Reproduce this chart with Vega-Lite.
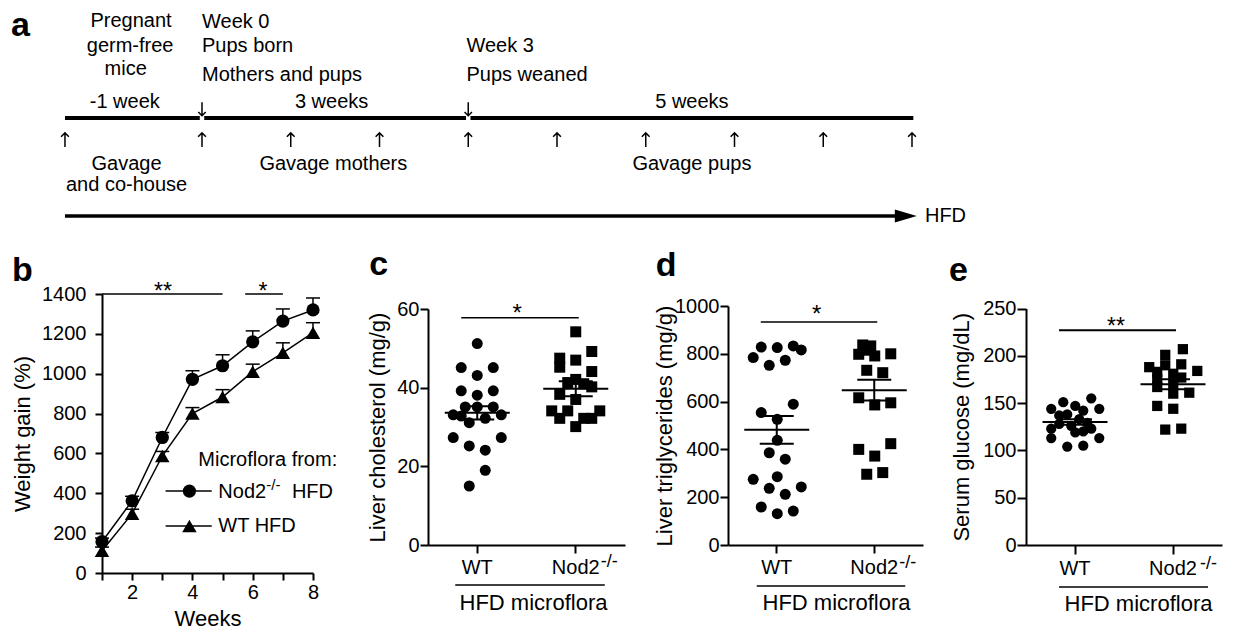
{
  "$schema": "https://vega.github.io/schema/vega-lite/v6.json",
  "background": "white",
  "padding": {"left": 11, "top": 1, "right": 5, "bottom": 2},
  "bounds": "flush",
  "spacing": 66,
  "resolve": {"scale": {"shape": "independent", "size": "independent"}},
  "datasets": {
    "tl_lines": [
      {"w0": -1.544, "w1": -0.025, "v": 0, "role": "main"},
      {"w0": 0.025, "w1": 2.975, "v": 0, "role": "main"},
      {"w0": 3.025, "w1": 8.015, "v": 0, "role": "main"},
      {"w0": -1.544, "w1": 7.85, "v": -3.92, "role": "hfd"},
      {"w0": 7.93, "w1": 7.93, "v": -3.92, "role": "head"}
    ],
    "tl_text": [
      {"label": "Pregnant", "w": -0.8, "v": 3.88, "role": "center"},
      {"label": "germ-free", "w": -0.81, "v": 2.88, "role": "center"},
      {"label": "mice", "w": -0.86, "v": 1.96, "role": "center"},
      {"label": "-1 week", "w": -0.87, "v": 0.64, "role": "center"},
      {"label": "3 weeks", "w": 1.46, "v": 0.64, "role": "center"},
      {"label": "5 weeks", "w": 5.52, "v": 0.64, "role": "center"},
      {"label": "Gavage", "w": -0.85, "v": -1.82, "role": "center"},
      {"label": "and co-house", "w": -0.85, "v": -2.68, "role": "center"},
      {"label": "Gavage mothers", "w": 1.48, "v": -1.82, "role": "center"},
      {"label": "Gavage pups", "w": 5.52, "v": -1.82, "role": "center"},
      {"label": "Week 0", "w": 0, "v": 3.86, "role": "left"},
      {"label": "Pups born", "w": 0, "v": 2.88, "role": "left"},
      {"label": "Mothers and pups", "w": 0, "v": 1.72, "role": "left"},
      {"label": "Week 3", "w": 2.98, "v": 2.89, "role": "left"},
      {"label": "Pups weaned", "w": 2.98, "v": 1.72, "role": "left"},
      {"label": "HFD", "w": 8.146, "v": -3.92, "role": "left"},
      {"label": "a", "w": -2.152, "v": 3.28, "role": "letter"}
    ],
    "tl_arrows": [
      {"w": -1.544, "v": -0.88, "dir": "up"},
      {"w": 0, "v": -0.88, "dir": "up"},
      {"w": 1, "v": -0.88, "dir": "up"},
      {"w": 2, "v": -0.88, "dir": "up"},
      {"w": 3, "v": -0.88, "dir": "up"},
      {"w": 4, "v": -0.88, "dir": "up"},
      {"w": 5, "v": -0.88, "dir": "up"},
      {"w": 6, "v": -0.88, "dir": "up"},
      {"w": 7, "v": -0.88, "dir": "up"},
      {"w": 8, "v": -0.88, "dir": "up"},
      {"w": 0, "v": 0.36, "dir": "down"},
      {"w": 3, "v": 0.36, "dir": "down"}
    ],
    "weight": [
      {"group": "Nod2", "week": 1, "mean": 157, "upper": 175},
      {"group": "Nod2", "week": 2, "mean": 362, "upper": 385},
      {"group": "Nod2", "week": 3, "mean": 680, "upper": 705},
      {"group": "Nod2", "week": 4, "mean": 972, "upper": 1015},
      {"group": "Nod2", "week": 5, "mean": 1040, "upper": 1095},
      {"group": "Nod2", "week": 6, "mean": 1160, "upper": 1215},
      {"group": "Nod2", "week": 7, "mean": 1264, "upper": 1325},
      {"group": "Nod2", "week": 8, "mean": 1320, "upper": 1380},
      {"group": "WT", "week": 1, "mean": 112, "upper": 130},
      {"group": "WT", "week": 2, "mean": 298, "upper": 320},
      {"group": "WT", "week": 3, "mean": 587, "upper": 610},
      {"group": "WT", "week": 4, "mean": 800, "upper": 830},
      {"group": "WT", "week": 5, "mean": 883, "upper": 920},
      {"group": "WT", "week": 6, "mean": 1010, "upper": 1048},
      {"group": "WT", "week": 7, "mean": 1105, "upper": 1155},
      {"group": "WT", "week": 8, "mean": 1206, "upper": 1256}
    ],
    "weight_sig": [
      {"x0": 1, "x1": 5, "xm": 3.02, "y": 1400, "label": "**"},
      {"x0": 5.75, "x1": 7, "xm": 6.34, "y": 1400, "label": "*"}
    ],
    "b_legend": [
      {"group": "Nod2", "x0": 3.11, "x1": 4.64, "xm": 3.9, "y": 411},
      {"group": "WT", "x0": 3.11, "x1": 4.64, "xm": 3.9, "y": 236}
    ],
    "b_legend_text": [
      {"label": "Microflora from:", "x": 4.195, "y": 568, "role": "normal"},
      {"label": "Nod2", "x": 4.86, "y": 405, "role": "normal"},
      {"label": "HFD", "x": 7.3, "y": 405, "role": "normal"},
      {"label": "WT HFD", "x": 4.86, "y": 236, "role": "normal"},
      {"label": "-/-", "x": 6.45, "y": 440, "role": "sup"}
    ],
    "b_letter": [{"label": "b", "x": 1, "y": 1400}],
    "chol": [
      {"group": "WT", "slot": 0, "value": 51.2}, {"group": "WT", "slot": -2, "value": 45.1}, {"group": "WT", "slot": 2, "value": 45.1},
      {"group": "WT", "slot": 0, "value": 43.1}, {"group": "WT", "slot": -2, "value": 39.2}, {"group": "WT", "slot": 2, "value": 39.2},
      {"group": "WT", "slot": 0, "value": 38.1}, {"group": "WT", "slot": -1.5, "value": 35.1}, {"group": "WT", "slot": 0, "value": 35.1},
      {"group": "WT", "slot": 2, "value": 35.1}, {"group": "WT", "slot": -3, "value": 33.1}, {"group": "WT", "slot": 3, "value": 33.1},
      {"group": "WT", "slot": -2, "value": 32.8}, {"group": "WT", "slot": 1, "value": 32.2}, {"group": "WT", "slot": -1, "value": 31.1},
      {"group": "WT", "slot": -3, "value": 27.3}, {"group": "WT", "slot": 3, "value": 27.3}, {"group": "WT", "slot": -1, "value": 25.2},
      {"group": "WT", "slot": 1, "value": 24.1}, {"group": "WT", "slot": 1, "value": 19.0}, {"group": "WT", "slot": -1, "value": 15.0},
      {"group": "Nod2", "slot": 0, "value": 54.2}, {"group": "Nod2", "slot": 2, "value": 49.2}, {"group": "Nod2", "slot": -2, "value": 47.5},
      {"group": "Nod2", "slot": -2, "value": 45.2}, {"group": "Nod2", "slot": 0, "value": 47.0}, {"group": "Nod2", "slot": 2, "value": 44.1},
      {"group": "Nod2", "slot": 0, "value": 42.1}, {"group": "Nod2", "slot": -1, "value": 41.3}, {"group": "Nod2", "slot": 1, "value": 41.0},
      {"group": "Nod2", "slot": 2, "value": 40.2}, {"group": "Nod2", "slot": -2, "value": 38.3}, {"group": "Nod2", "slot": 0, "value": 37.0},
      {"group": "Nod2", "slot": -3, "value": 34.1}, {"group": "Nod2", "slot": -1, "value": 34.1}, {"group": "Nod2", "slot": 3, "value": 34.1},
      {"group": "Nod2", "slot": -2, "value": 32.2}, {"group": "Nod2", "slot": 1, "value": 32.2}, {"group": "Nod2", "slot": 2, "value": 32.2},
      {"group": "Nod2", "slot": 0, "value": 30.1}
    ],
    "chol_mean": [
      {"group": "WT", "mean": 33.6, "lo": 31.9, "hi": 35.3},
      {"group": "Nod2", "mean": 39.7, "lo": 37.8, "hi": 41.6}
    ],
    "chol_ann": [{"a": "WT", "b": "Nod2", "sig": 57.8, "label": "*", "base": 0, "top": 60, "letter": "c", "sup": "-/-"}],
    "tg": [
      {"group": "WT", "slot": -2, "value": 828}, {"group": "WT", "slot": 0, "value": 826}, {"group": "WT", "slot": 2, "value": 833},
      {"group": "WT", "slot": 3, "value": 816}, {"group": "WT", "slot": -3, "value": 784}, {"group": "WT", "slot": -1, "value": 752},
      {"group": "WT", "slot": 1, "value": 773}, {"group": "WT", "slot": -2, "value": 554}, {"group": "WT", "slot": 2, "value": 589},
      {"group": "WT", "slot": 0, "value": 526}, {"group": "WT", "slot": 0, "value": 438}, {"group": "WT", "slot": -1, "value": 386},
      {"group": "WT", "slot": 1, "value": 359}, {"group": "WT", "slot": -3, "value": 275}, {"group": "WT", "slot": 0, "value": 286},
      {"group": "WT", "slot": -1, "value": 237}, {"group": "WT", "slot": 3, "value": 243}, {"group": "WT", "slot": 1, "value": 212},
      {"group": "WT", "slot": -2, "value": 159}, {"group": "WT", "slot": 0, "value": 131}, {"group": "WT", "slot": 2, "value": 142},
      {"group": "Nod2", "slot": -1.5, "value": 837}, {"group": "Nod2", "slot": -0.5, "value": 833}, {"group": "Nod2", "slot": -2, "value": 798},
      {"group": "Nod2", "slot": 0, "value": 791}, {"group": "Nod2", "slot": 2, "value": 800}, {"group": "Nod2", "slot": -1, "value": 815},
      {"group": "Nod2", "slot": -1, "value": 731}, {"group": "Nod2", "slot": 1, "value": 721}, {"group": "Nod2", "slot": -2, "value": 616},
      {"group": "Nod2", "slot": 0, "value": 586}, {"group": "Nod2", "slot": 2, "value": 595}, {"group": "Nod2", "slot": 2, "value": 424},
      {"group": "Nod2", "slot": -2, "value": 400}, {"group": "Nod2", "slot": 0, "value": 372}, {"group": "Nod2", "slot": -1, "value": 296},
      {"group": "Nod2", "slot": 1, "value": 303}
    ],
    "tg_mean": [
      {"group": "WT", "mean": 482, "lo": 424, "hi": 540},
      {"group": "Nod2", "mean": 648, "lo": 605, "hi": 691}
    ],
    "tg_ann": [{"a": "WT", "b": "Nod2", "sig": 933, "label": "*", "base": 0, "top": 1000, "letter": "d", "sup": "-/-"}],
    "glu": [
      {"group": "WT", "slot": 2, "value": 155}, {"group": "WT", "slot": -1.5, "value": 151}, {"group": "WT", "slot": 0, "value": 147},
      {"group": "WT", "slot": -3, "value": 144}, {"group": "WT", "slot": 1, "value": 142}, {"group": "WT", "slot": 3, "value": 144},
      {"group": "WT", "slot": -2, "value": 137}, {"group": "WT", "slot": -1, "value": 138}, {"group": "WT", "slot": 0.5, "value": 133},
      {"group": "WT", "slot": -0.5, "value": 126}, {"group": "WT", "slot": 1.5, "value": 129}, {"group": "WT", "slot": -3, "value": 123},
      {"group": "WT", "slot": 2, "value": 123}, {"group": "WT", "slot": 0, "value": 119}, {"group": "WT", "slot": -3, "value": 113},
      {"group": "WT", "slot": 3, "value": 113}, {"group": "WT", "slot": -1, "value": 104}, {"group": "WT", "slot": 1, "value": 105},
      {"group": "WT", "slot": -2, "value": 128}, {"group": "WT", "slot": 1, "value": 120},
      {"group": "Nod2", "slot": 1.2, "value": 207}, {"group": "Nod2", "slot": -1, "value": 201}, {"group": "Nod2", "slot": -3, "value": 188},
      {"group": "Nod2", "slot": -1, "value": 190}, {"group": "Nod2", "slot": 1, "value": 191}, {"group": "Nod2", "slot": -2, "value": 183},
      {"group": "Nod2", "slot": 3, "value": 184}, {"group": "Nod2", "slot": 0, "value": 181}, {"group": "Nod2", "slot": 1, "value": 177},
      {"group": "Nod2", "slot": -2, "value": 175}, {"group": "Nod2", "slot": 0, "value": 170}, {"group": "Nod2", "slot": -2, "value": 167},
      {"group": "Nod2", "slot": 2, "value": 161}, {"group": "Nod2", "slot": 0, "value": 160}, {"group": "Nod2", "slot": -2, "value": 147},
      {"group": "Nod2", "slot": 0, "value": 144}, {"group": "Nod2", "slot": -1, "value": 122}, {"group": "Nod2", "slot": 1, "value": 123}
    ],
    "glu_mean": [
      {"group": "WT", "mean": 130, "lo": 127, "hi": 133},
      {"group": "Nod2", "mean": 170, "lo": 164.7, "hi": 175.3}
    ],
    "glu_ann": [{"a": "WT", "b": "Nod2", "sig": 227, "label": "**", "base": 0, "top": 250, "letter": "e", "sup": "-/-"}]
  },
  "vconcat": [
    {
      "width": 1120,
      "height": 227,
      "layer": [
        {
          "data": {"name": "tl_lines"},
          "transform": [{"filter": "datum.role === 'main'"}],
          "mark": {"type": "rule", "strokeWidth": 4, "color": "black"},
          "encoding": {
            "x": {"field": "w0", "type": "quantitative", "scale": {"domain": [-1.1268, 11.493], "nice": false, "zero": false}, "axis": null},
            "x2": {"field": "w1"},
            "y": {"field": "v", "type": "quantitative", "scale": {"domain": [-4.4, 4.68], "nice": false, "zero": false}, "axis": null}
          }
        },
        {
          "data": {"name": "tl_lines"},
          "transform": [{"filter": "datum.role === 'hfd'"}],
          "mark": {"type": "rule", "strokeWidth": 3.5, "color": "black"},
          "encoding": {
            "x": {"field": "w0", "type": "quantitative", "axis": null},
            "x2": {"field": "w1"},
            "y": {"field": "v", "type": "quantitative", "axis": null}
          }
        },
        {
          "data": {"name": "tl_lines"},
          "transform": [{"filter": "datum.role === 'head'"}],
          "mark": {"type": "point", "shape": "M-1,-0.6L1,0L-1,0.6Z", "size": 484, "filled": true, "color": "black", "opacity": 1, "strokeWidth": 0},
          "encoding": {
            "x": {"field": "w0", "type": "quantitative", "axis": null},
            "y": {"field": "v", "type": "quantitative", "axis": null}
          }
        },
        {
          "data": {"name": "tl_arrows"},
          "transform": [{"filter": "datum.dir === 'up'"}],
          "mark": {"type": "point", "shape": "M0,1L0,-1M-0.55,-0.45L0,-1L0.55,-0.45", "size": 200, "filled": false, "color": "black", "opacity": 1, "strokeWidth": 1.5},
          "encoding": {
            "x": {"field": "w", "type": "quantitative", "axis": null},
            "y": {"field": "v", "type": "quantitative", "axis": null}
          }
        },
        {
          "data": {"name": "tl_arrows"},
          "transform": [{"filter": "datum.dir === 'down'"}],
          "mark": {"type": "point", "shape": "M0,-1L0,1M-0.55,0.45L0,1L0.55,0.45", "size": 180, "filled": false, "color": "black", "opacity": 1, "strokeWidth": 1.5},
          "encoding": {
            "x": {"field": "w", "type": "quantitative", "axis": null},
            "y": {"field": "v", "type": "quantitative", "axis": null}
          }
        },
        {
          "data": {"name": "tl_text"},
          "transform": [{"filter": "datum.role === 'center'"}],
          "mark": {"type": "text", "align": "center", "baseline": "middle", "fontSize": 20, "color": "black"},
          "encoding": {
            "x": {"field": "w", "type": "quantitative", "axis": null},
            "y": {"field": "v", "type": "quantitative", "axis": null},
            "text": {"field": "label"}
          }
        },
        {
          "data": {"name": "tl_text"},
          "transform": [{"filter": "datum.role === 'left'"}],
          "mark": {"type": "text", "align": "left", "baseline": "middle", "fontSize": 20, "color": "black"},
          "encoding": {
            "x": {"field": "w", "type": "quantitative", "axis": null},
            "y": {"field": "v", "type": "quantitative", "axis": null},
            "text": {"field": "label"}
          }
        },
        {
          "data": {"name": "tl_text"},
          "transform": [{"filter": "datum.role === 'letter'"}],
          "mark": {"type": "text", "align": "left", "baseline": "alphabetic", "fontSize": 34, "fontWeight": "bold", "color": "black"},
          "encoding": {
            "x": {"field": "w", "type": "quantitative", "axis": null},
            "y": {"field": "v", "type": "quantitative", "axis": null},
            "text": {"field": "label"}
          }
        }
      ]
    },
    {
      "bounds": "flush",
      "spacing": 103,
      "resolve": {"scale": {"shape": "independent", "size": "independent"}},
      "hconcat": [
        {
          "width": 223,
          "height": 279,
          "layer": [
            {
              "data": {"name": "weight"},
              "mark": {"type": "rule", "strokeWidth": 1.5, "color": "black"},
              "encoding": {
                "x": {"field": "week", "type": "quantitative", "title": "Weeks", "scale": {"domain": [1, 8], "range": [0, 211], "nice": false, "zero": false},
                  "axis": {"values": [1, 2, 3, 4, 5, 6, 7, 8], "labelExpr": "datum.value % 2 == 0 ? datum.label : ''", "labelOverlap": false, "labelSeparation": -50, "tickSize": 7, "labelPadding": 2, "titlePadding": 6}},
                "y": {"field": "mean", "type": "quantitative", "title": "Weight gain (%)", "scale": {"domain": [0, 1400], "nice": false},
                  "axis": {"values": [0, 200, 400, 600, 800, 1000, 1200, 1400], "format": "d", "labelOverlap": false, "labelSeparation": -50, "tickSize": 7, "labelPadding": 9, "titlePadding": 7}},
                "y2": {"field": "upper"}
              }
            },
            {
              "data": {"name": "weight"},
              "mark": {"type": "tick", "orient": "horizontal", "size": 14, "thickness": 1.5, "color": "black", "opacity": 1},
              "encoding": {
                "x": {"field": "week", "type": "quantitative", "title": "Weeks",
                  "axis": {"values": [1, 2, 3, 4, 5, 6, 7, 8], "labelExpr": "datum.value % 2 == 0 ? datum.label : ''", "labelOverlap": false, "labelSeparation": -50, "tickSize": 7, "labelPadding": 2, "titlePadding": 6}},
                "y": {"field": "upper", "type": "quantitative", "title": "Weight gain (%)",
                  "axis": {"values": [0, 200, 400, 600, 800, 1000, 1200, 1400], "format": "d", "labelOverlap": false, "labelSeparation": -50, "tickSize": 7, "labelPadding": 9, "titlePadding": 7}}
              }
            },
            {
              "data": {"name": "weight"},
              "mark": {"type": "line", "strokeWidth": 1.5, "color": "black"},
              "encoding": {
                "x": {"field": "week", "type": "quantitative", "title": "Weeks",
                  "axis": {"values": [1, 2, 3, 4, 5, 6, 7, 8], "labelExpr": "datum.value % 2 == 0 ? datum.label : ''", "labelOverlap": false, "labelSeparation": -50, "tickSize": 7, "labelPadding": 2, "titlePadding": 6}},
                "y": {"field": "mean", "type": "quantitative", "title": "Weight gain (%)",
                  "axis": {"values": [0, 200, 400, 600, 800, 1000, 1200, 1400], "format": "d", "labelOverlap": false, "labelSeparation": -50, "tickSize": 7, "labelPadding": 9, "titlePadding": 7}},
                "detail": {"field": "group"}
              }
            },
            {
              "data": {"name": "weight"},
              "mark": {"type": "point", "filled": true, "color": "black", "opacity": 1},
              "encoding": {
                "x": {"field": "week", "type": "quantitative", "title": "Weeks",
                  "axis": {"values": [1, 2, 3, 4, 5, 6, 7, 8], "labelExpr": "datum.value % 2 == 0 ? datum.label : ''", "labelOverlap": false, "labelSeparation": -50, "tickSize": 7, "labelPadding": 2, "titlePadding": 6}},
                "y": {"field": "mean", "type": "quantitative", "title": "Weight gain (%)",
                  "axis": {"values": [0, 200, 400, 600, 800, 1000, 1200, 1400], "format": "d", "labelOverlap": false, "labelSeparation": -50, "tickSize": 7, "labelPadding": 9, "titlePadding": 7}},
                "shape": {"field": "group", "type": "nominal", "scale": {"domain": ["Nod2", "WT"], "range": ["circle", "triangle-up"]}, "legend": null},
                "size": {"field": "group", "type": "nominal", "scale": {"domain": ["Nod2", "WT"], "range": [175, 210]}, "legend": null}
              }
            },
            {
              "data": {"name": "weight_sig"},
              "mark": {"type": "rule", "strokeWidth": 1.5, "color": "black"},
              "encoding": {
                "x": {"field": "x0", "type": "quantitative", "title": "Weeks",
                  "axis": {"values": [1, 2, 3, 4, 5, 6, 7, 8], "labelExpr": "datum.value % 2 == 0 ? datum.label : ''", "labelOverlap": false, "labelSeparation": -50, "tickSize": 7, "labelPadding": 2, "titlePadding": 6}},
                "x2": {"field": "x1"},
                "y": {"field": "y", "type": "quantitative", "title": "Weight gain (%)",
                  "axis": {"values": [0, 200, 400, 600, 800, 1000, 1200, 1400], "format": "d", "labelOverlap": false, "labelSeparation": -50, "tickSize": 7, "labelPadding": 9, "titlePadding": 7}}
              }
            },
            {
              "data": {"name": "weight_sig"},
              "mark": {"type": "text", "align": "center", "baseline": "alphabetic", "fontSize": 23, "dy": 5, "color": "black"},
              "encoding": {
                "x": {"field": "xm", "type": "quantitative", "title": "Weeks",
                  "axis": {"values": [1, 2, 3, 4, 5, 6, 7, 8], "labelExpr": "datum.value % 2 == 0 ? datum.label : ''", "labelOverlap": false, "labelSeparation": -50, "tickSize": 7, "labelPadding": 2, "titlePadding": 6}},
                "y": {"field": "y", "type": "quantitative", "title": "Weight gain (%)",
                  "axis": {"values": [0, 200, 400, 600, 800, 1000, 1200, 1400], "format": "d", "labelOverlap": false, "labelSeparation": -50, "tickSize": 7, "labelPadding": 9, "titlePadding": 7}},
                "text": {"field": "label"}
              }
            },
            {
              "data": {"name": "b_legend"},
              "mark": {"type": "rule", "strokeWidth": 1.5, "color": "black"},
              "encoding": {
                "x": {"field": "x0", "type": "quantitative", "title": "Weeks",
                  "axis": {"values": [1, 2, 3, 4, 5, 6, 7, 8], "labelExpr": "datum.value % 2 == 0 ? datum.label : ''", "labelOverlap": false, "labelSeparation": -50, "tickSize": 7, "labelPadding": 2, "titlePadding": 6}},
                "x2": {"field": "x1"},
                "y": {"field": "y", "type": "quantitative", "title": "Weight gain (%)",
                  "axis": {"values": [0, 200, 400, 600, 800, 1000, 1200, 1400], "format": "d", "labelOverlap": false, "labelSeparation": -50, "tickSize": 7, "labelPadding": 9, "titlePadding": 7}}
              }
            },
            {
              "data": {"name": "b_legend"},
              "mark": {"type": "point", "filled": true, "color": "black", "opacity": 1},
              "encoding": {
                "x": {"field": "xm", "type": "quantitative", "title": "Weeks",
                  "axis": {"values": [1, 2, 3, 4, 5, 6, 7, 8], "labelExpr": "datum.value % 2 == 0 ? datum.label : ''", "labelOverlap": false, "labelSeparation": -50, "tickSize": 7, "labelPadding": 2, "titlePadding": 6}},
                "y": {"field": "y", "type": "quantitative", "title": "Weight gain (%)",
                  "axis": {"values": [0, 200, 400, 600, 800, 1000, 1200, 1400], "format": "d", "labelOverlap": false, "labelSeparation": -50, "tickSize": 7, "labelPadding": 9, "titlePadding": 7}},
                "shape": {"field": "group", "type": "nominal", "legend": null},
                "size": {"field": "group", "type": "nominal", "legend": null}
              }
            },
            {
              "data": {"name": "b_legend_text"},
              "transform": [{"filter": "datum.role === 'normal'"}],
              "mark": {"type": "text", "align": "left", "baseline": "middle", "fontSize": 20, "color": "black"},
              "encoding": {
                "x": {"field": "x", "type": "quantitative", "title": "Weeks",
                  "axis": {"values": [1, 2, 3, 4, 5, 6, 7, 8], "labelExpr": "datum.value % 2 == 0 ? datum.label : ''", "labelOverlap": false, "labelSeparation": -50, "tickSize": 7, "labelPadding": 2, "titlePadding": 6}},
                "y": {"field": "y", "type": "quantitative", "title": "Weight gain (%)",
                  "axis": {"values": [0, 200, 400, 600, 800, 1000, 1200, 1400], "format": "d", "labelOverlap": false, "labelSeparation": -50, "tickSize": 7, "labelPadding": 9, "titlePadding": 7}},
                "text": {"field": "label"}
              }
            },
            {
              "data": {"name": "b_legend_text"},
              "transform": [{"filter": "datum.role === 'sup'"}],
              "mark": {"type": "text", "align": "left", "baseline": "middle", "fontSize": 15, "color": "black"},
              "encoding": {
                "x": {"field": "x", "type": "quantitative", "title": "Weeks",
                  "axis": {"values": [1, 2, 3, 4, 5, 6, 7, 8], "labelExpr": "datum.value % 2 == 0 ? datum.label : ''", "labelOverlap": false, "labelSeparation": -50, "tickSize": 7, "labelPadding": 2, "titlePadding": 6}},
                "y": {"field": "y", "type": "quantitative", "title": "Weight gain (%)",
                  "axis": {"values": [0, 200, 400, 600, 800, 1000, 1200, 1400], "format": "d", "labelOverlap": false, "labelSeparation": -50, "tickSize": 7, "labelPadding": 9, "titlePadding": 7}},
                "text": {"field": "label"}
              }
            },
            {
              "data": {"name": "b_letter"},
              "mark": {"type": "text", "align": "left", "baseline": "alphabetic", "fontSize": 34, "fontWeight": "bold", "dx": -90, "dy": -13, "color": "black"},
              "encoding": {
                "x": {"field": "x", "type": "quantitative", "title": "Weeks",
                  "axis": {"values": [1, 2, 3, 4, 5, 6, 7, 8], "labelExpr": "datum.value % 2 == 0 ? datum.label : ''", "labelOverlap": false, "labelSeparation": -50, "tickSize": 7, "labelPadding": 2, "titlePadding": 6}},
                "y": {"field": "y", "type": "quantitative", "title": "Weight gain (%)",
                  "axis": {"values": [0, 200, 400, 600, 800, 1000, 1200, 1400], "format": "d", "labelOverlap": false, "labelSeparation": -50, "tickSize": 7, "labelPadding": 9, "titlePadding": 7}},
                "text": {"field": "label"}
              }
            }
          ]
        },
        {
          "width": 197,
          "height": 251,
          "layer": [
            {
              "data": {"name": "chol"},
              "mark": {"type": "point", "filled": true, "color": "black", "opacity": 1, "size": 121},
              "encoding": {
                "x": {"field": "group", "type": "nominal", "title": "HFD microflora", "scale": {"type": "band", "domain": ["WT", "Nod2"], "paddingInner": 0, "paddingOuter": 0},
                  "axis": {"labelAngle": 0, "labelOverlap": false, "tickSize": 8, "labelPadding": 4, "titlePadding": 15, "titleX": 105}},
                "xOffset": {"field": "slot", "type": "quantitative", "scale": {"domain": [-6.15, 6.15]}},
                "y": {"field": "value", "type": "quantitative", "title": "Liver cholesterol (mg/g)", "scale": {"domain": [0, 60], "range": [251, 15], "nice": false},
                  "axis": {"values": [0, 20, 40, 60], "format": "d", "labelOverlap": false, "tickSize": 8, "labelPadding": 1, "titlePadding": 7}},
                "shape": {"field": "group", "type": "nominal", "scale": {"domain": ["WT", "Nod2"], "range": ["circle", "square"]}, "legend": null}
              }
            },
            {
              "data": {"name": "chol_mean"},
              "mark": {"type": "tick", "orient": "horizontal", "size": 65, "thickness": 2, "color": "black", "opacity": 1},
              "encoding": {
                "x": {"field": "group", "type": "nominal", "title": "HFD microflora"},
                "y": {"field": "mean", "type": "quantitative", "title": "Liver cholesterol (mg/g)"}
              }
            },
            {
              "data": {"name": "chol_mean"},
              "mark": {"type": "rule", "strokeWidth": 2, "color": "black"},
              "encoding": {
                "x": {"field": "group", "type": "nominal", "title": "HFD microflora"},
                "y": {"field": "lo", "type": "quantitative", "title": "Liver cholesterol (mg/g)"},
                "y2": {"field": "hi"}
              }
            },
            {
              "data": {"name": "chol_mean"},
              "mark": {"type": "tick", "orient": "horizontal", "size": 34, "thickness": 2, "color": "black", "opacity": 1},
              "encoding": {
                "x": {"field": "group", "type": "nominal", "title": "HFD microflora"},
                "y": {"field": "lo", "type": "quantitative", "title": "Liver cholesterol (mg/g)"}
              }
            },
            {
              "data": {"name": "chol_mean"},
              "mark": {"type": "tick", "orient": "horizontal", "size": 34, "thickness": 2, "color": "black", "opacity": 1},
              "encoding": {
                "x": {"field": "group", "type": "nominal", "title": "HFD microflora"},
                "y": {"field": "hi", "type": "quantitative", "title": "Liver cholesterol (mg/g)"}
              }
            },
            {
              "data": {"name": "chol_ann"},
              "mark": {"type": "rule", "strokeWidth": 1.5, "color": "black", "xOffset": -16, "x2Offset": 3},
              "encoding": {
                "x": {"field": "a", "type": "nominal", "title": "HFD microflora"},
                "x2": {"field": "b"},
                "y": {"field": "sig", "type": "quantitative", "title": "Liver cholesterol (mg/g)"}
              }
            },
            {
              "data": {"name": "chol_ann"},
              "mark": {"type": "text", "align": "center", "baseline": "alphabetic", "fontSize": 24, "dx": 40, "dy": 3, "color": "black"},
              "encoding": {
                "x": {"field": "a", "type": "nominal", "title": "HFD microflora"},
                "y": {"field": "sig", "type": "quantitative", "title": "Liver cholesterol (mg/g)"},
                "text": {"field": "label"}
              }
            },
            {
              "data": {"name": "chol_ann"},
              "mark": {"type": "rule", "strokeWidth": 1.5, "color": "black", "xOffset": -22, "x2Offset": 29, "yOffset": 40},
              "encoding": {
                "x": {"field": "a", "type": "nominal", "title": "HFD microflora"},
                "x2": {"field": "b"},
                "y": {"field": "base", "type": "quantitative", "title": "Liver cholesterol (mg/g)"}
              }
            },
            {
              "data": {"name": "chol_ann"},
              "mark": {"type": "text", "align": "left", "baseline": "middle", "fontSize": 18, "dx": 25, "dy": 17, "color": "black"},
              "encoding": {
                "x": {"field": "b", "type": "nominal", "title": "HFD microflora"},
                "y": {"field": "base", "type": "quantitative", "title": "Liver cholesterol (mg/g)"},
                "text": {"field": "sup"}
              }
            },
            {
              "data": {"name": "chol_ann"},
              "mark": {"type": "text", "align": "left", "baseline": "alphabetic", "fontSize": 34, "fontWeight": "bold", "dx": -108, "dy": -34, "color": "black"},
              "encoding": {
                "x": {"field": "a", "type": "nominal", "title": "HFD microflora"},
                "y": {"field": "top", "type": "quantitative", "title": "Liver cholesterol (mg/g)"},
                "text": {"field": "letter"}
              }
            }
          ]
        },
        {
          "width": 195,
          "height": 251,
          "layer": [
            {
              "data": {"name": "tg"},
              "mark": {"type": "point", "filled": true, "color": "black", "opacity": 1, "size": 121},
              "encoding": {
                "x": {"field": "group", "type": "nominal", "title": "HFD microflora", "scale": {"type": "band", "domain": ["WT", "Nod2"], "paddingInner": 0, "paddingOuter": 0},
                  "axis": {"labelAngle": 0, "labelOverlap": false, "tickSize": 8, "labelPadding": 4, "titlePadding": 15, "titleX": 108}},
                "xOffset": {"field": "slot", "type": "quantitative", "scale": {"domain": [-6.1, 6.1]}},
                "y": {"field": "value", "type": "quantitative", "title": "Liver triglycerides (mg/g)", "scale": {"domain": [0, 1000], "range": [251, 12], "nice": false},
                  "axis": {"values": [0, 200, 400, 600, 800, 1000], "format": "d", "labelOverlap": false, "tickSize": 8, "labelPadding": 1, "titlePadding": -2}},
                "shape": {"field": "group", "type": "nominal", "scale": {"domain": ["WT", "Nod2"], "range": ["circle", "square"]}, "legend": null}
              }
            },
            {
              "data": {"name": "tg_mean"},
              "mark": {"type": "tick", "orient": "horizontal", "size": 65, "thickness": 2, "color": "black", "opacity": 1},
              "encoding": {
                "x": {"field": "group", "type": "nominal", "title": "HFD microflora"},
                "y": {"field": "mean", "type": "quantitative", "title": "Liver triglycerides (mg/g)"}
              }
            },
            {
              "data": {"name": "tg_mean"},
              "mark": {"type": "rule", "strokeWidth": 2, "color": "black"},
              "encoding": {
                "x": {"field": "group", "type": "nominal", "title": "HFD microflora"},
                "y": {"field": "lo", "type": "quantitative", "title": "Liver triglycerides (mg/g)"},
                "y2": {"field": "hi"}
              }
            },
            {
              "data": {"name": "tg_mean"},
              "mark": {"type": "tick", "orient": "horizontal", "size": 34, "thickness": 2, "color": "black", "opacity": 1},
              "encoding": {
                "x": {"field": "group", "type": "nominal", "title": "HFD microflora"},
                "y": {"field": "lo", "type": "quantitative", "title": "Liver triglycerides (mg/g)"}
              }
            },
            {
              "data": {"name": "tg_mean"},
              "mark": {"type": "tick", "orient": "horizontal", "size": 34, "thickness": 2, "color": "black", "opacity": 1},
              "encoding": {
                "x": {"field": "group", "type": "nominal", "title": "HFD microflora"},
                "y": {"field": "hi", "type": "quantitative", "title": "Liver triglycerides (mg/g)"}
              }
            },
            {
              "data": {"name": "tg_ann"},
              "mark": {"type": "rule", "strokeWidth": 1.5, "color": "black", "xOffset": -16, "x2Offset": 3},
              "encoding": {
                "x": {"field": "a", "type": "nominal", "title": "HFD microflora"},
                "x2": {"field": "b"},
                "y": {"field": "sig", "type": "quantitative", "title": "Liver triglycerides (mg/g)"}
              }
            },
            {
              "data": {"name": "tg_ann"},
              "mark": {"type": "text", "align": "center", "baseline": "alphabetic", "fontSize": 24, "dx": 40, "dy": 0, "color": "black"},
              "encoding": {
                "x": {"field": "a", "type": "nominal", "title": "HFD microflora"},
                "y": {"field": "sig", "type": "quantitative", "title": "Liver triglycerides (mg/g)"},
                "text": {"field": "label"}
              }
            },
            {
              "data": {"name": "tg_ann"},
              "mark": {"type": "rule", "strokeWidth": 1.5, "color": "black", "xOffset": -20, "x2Offset": 31, "yOffset": 41},
              "encoding": {
                "x": {"field": "a", "type": "nominal", "title": "HFD microflora"},
                "x2": {"field": "b"},
                "y": {"field": "base", "type": "quantitative", "title": "Liver triglycerides (mg/g)"}
              }
            },
            {
              "data": {"name": "tg_ann"},
              "mark": {"type": "text", "align": "left", "baseline": "middle", "fontSize": 18, "dx": 25, "dy": 18, "color": "black"},
              "encoding": {
                "x": {"field": "b", "type": "nominal", "title": "HFD microflora"},
                "y": {"field": "base", "type": "quantitative", "title": "Liver triglycerides (mg/g)"},
                "text": {"field": "sup"}
              }
            },
            {
              "data": {"name": "tg_ann"},
              "mark": {"type": "text", "align": "left", "baseline": "alphabetic", "fontSize": 34, "fontWeight": "bold", "dx": -121, "dy": -30, "color": "black"},
              "encoding": {
                "x": {"field": "a", "type": "nominal", "title": "HFD microflora"},
                "y": {"field": "top", "type": "quantitative", "title": "Liver triglycerides (mg/g)"},
                "text": {"field": "letter"}
              }
            }
          ]
        },
        {
          "width": 196,
          "height": 251,
          "layer": [
            {
              "data": {"name": "glu"},
              "mark": {"type": "point", "filled": true, "color": "black", "opacity": 1, "size": 105},
              "encoding": {
                "x": {"field": "group", "type": "nominal", "title": "HFD microflora", "scale": {"type": "band", "domain": ["WT", "Nod2"], "paddingInner": 0, "paddingOuter": 0},
                  "axis": {"labelAngle": 0, "labelOverlap": false, "tickSize": 9, "labelPadding": 4, "titlePadding": 15, "titleX": 112}},
                "xOffset": {"field": "slot", "type": "quantitative", "scale": {"domain": [-6.125, 6.125]}},
                "y": {"field": "value", "type": "quantitative", "title": "Serum glucose (mg/dL)", "scale": {"domain": [0, 250], "range": [251, 14.5], "nice": false},
                  "axis": {"values": [0, 50, 100, 150, 200, 250], "format": "d", "labelOverlap": false, "tickSize": 9, "labelPadding": 1, "titlePadding": 9}},
                "shape": {"field": "group", "type": "nominal", "scale": {"domain": ["WT", "Nod2"], "range": ["circle", "square"]}, "legend": null}
              }
            },
            {
              "data": {"name": "glu_mean"},
              "mark": {"type": "tick", "orient": "horizontal", "size": 65, "thickness": 2, "color": "black", "opacity": 1},
              "encoding": {
                "x": {"field": "group", "type": "nominal", "title": "HFD microflora"},
                "y": {"field": "mean", "type": "quantitative", "title": "Serum glucose (mg/dL)"}
              }
            },
            {
              "data": {"name": "glu_mean"},
              "mark": {"type": "rule", "strokeWidth": 2, "color": "black"},
              "encoding": {
                "x": {"field": "group", "type": "nominal", "title": "HFD microflora"},
                "y": {"field": "lo", "type": "quantitative", "title": "Serum glucose (mg/dL)"},
                "y2": {"field": "hi"}
              }
            },
            {
              "data": {"name": "glu_mean"},
              "mark": {"type": "tick", "orient": "horizontal", "size": 34, "thickness": 2, "color": "black", "opacity": 1},
              "encoding": {
                "x": {"field": "group", "type": "nominal", "title": "HFD microflora"},
                "y": {"field": "lo", "type": "quantitative", "title": "Serum glucose (mg/dL)"}
              }
            },
            {
              "data": {"name": "glu_mean"},
              "mark": {"type": "tick", "orient": "horizontal", "size": 34, "thickness": 2, "color": "black", "opacity": 1},
              "encoding": {
                "x": {"field": "group", "type": "nominal", "title": "HFD microflora"},
                "y": {"field": "hi", "type": "quantitative", "title": "Serum glucose (mg/dL)"}
              }
            },
            {
              "data": {"name": "glu_ann"},
              "mark": {"type": "rule", "strokeWidth": 2, "color": "black", "xOffset": -16, "x2Offset": 3},
              "encoding": {
                "x": {"field": "a", "type": "nominal", "title": "HFD microflora"},
                "x2": {"field": "b"},
                "y": {"field": "sig", "type": "quantitative", "title": "Serum glucose (mg/dL)"}
              }
            },
            {
              "data": {"name": "glu_ann"},
              "mark": {"type": "text", "align": "center", "baseline": "alphabetic", "fontSize": 23, "dx": 41, "dy": 4, "color": "black"},
              "encoding": {
                "x": {"field": "a", "type": "nominal", "title": "HFD microflora"},
                "y": {"field": "sig", "type": "quantitative", "title": "Serum glucose (mg/dL)"},
                "text": {"field": "label"}
              }
            },
            {
              "data": {"name": "glu_ann"},
              "mark": {"type": "rule", "strokeWidth": 1.5, "color": "black", "xOffset": -16, "x2Offset": 35, "yOffset": 42},
              "encoding": {
                "x": {"field": "a", "type": "nominal", "title": "HFD microflora"},
                "x2": {"field": "b"},
                "y": {"field": "base", "type": "quantitative", "title": "Serum glucose (mg/dL)"}
              }
            },
            {
              "data": {"name": "glu_ann"},
              "mark": {"type": "text", "align": "left", "baseline": "middle", "fontSize": 18, "dx": 27, "dy": 19, "color": "black"},
              "encoding": {
                "x": {"field": "b", "type": "nominal", "title": "HFD microflora"},
                "y": {"field": "base", "type": "quantitative", "title": "Serum glucose (mg/dL)"},
                "text": {"field": "sup"}
              }
            },
            {
              "data": {"name": "glu_ann"},
              "mark": {"type": "text", "align": "left", "baseline": "alphabetic", "fontSize": 34, "fontWeight": "bold", "dx": -126, "dy": -28, "color": "black"},
              "encoding": {
                "x": {"field": "a", "type": "nominal", "title": "HFD microflora"},
                "y": {"field": "top", "type": "quantitative", "title": "Serum glucose (mg/dL)"},
                "text": {"field": "letter"}
              }
            }
          ]
        }
      ]
    }
  ],
  "config": {
    "font": "Liberation Sans",
    "view": {"stroke": null},
    "axis": {
      "domainColor": "black", "domainWidth": 2, "tickColor": "black", "tickWidth": 2,
      "labelColor": "black", "titleColor": "black", "labelFontSize": 20, "titleFontSize": 22,
      "titleFontWeight": "normal", "grid": false, "labelFlush": false, "labelOverlap": false,
      "labelFont": "Liberation Sans", "titleFont": "Liberation Sans"
    },
    "text": {"font": "Liberation Sans", "color": "black"}
  }
}
